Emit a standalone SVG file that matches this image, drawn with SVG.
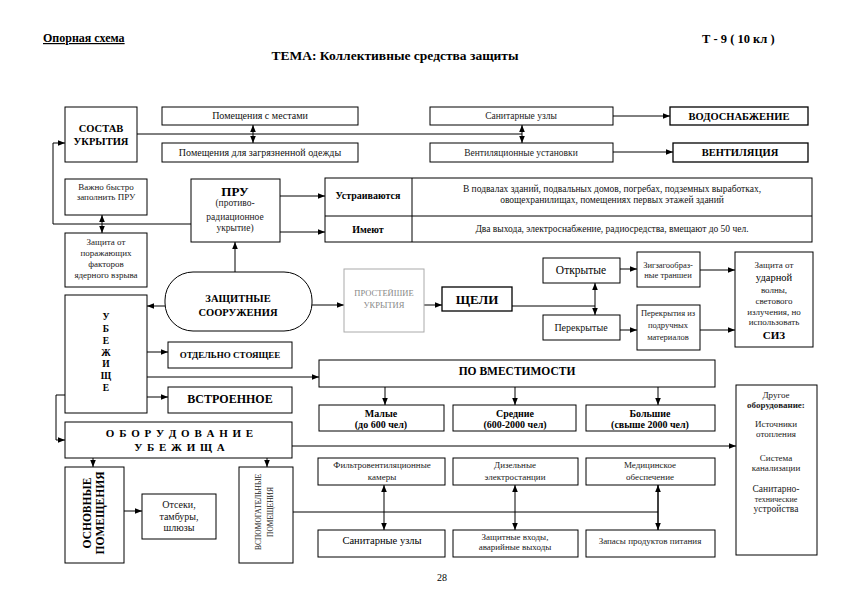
<svg xmlns="http://www.w3.org/2000/svg" width="841" height="595" viewBox="0 0 841 595" font-family="'Liberation Serif', 'DejaVu Serif', serif">
<style>
.b{fill:#fff;stroke:#000;stroke-width:1}
.lt{fill:#fff;stroke:#aaa;stroke-width:1}
.c{fill:none;stroke:#000;stroke-width:1}
.a{marker-end:url(#ah)}
.d{marker-start:url(#ah);marker-end:url(#ah)}
text{font-family:'Liberation Serif','DejaVu Serif',serif;fill:#000;text-anchor:middle}
.s{font-size:9px;fill:#222}
.m{font-size:10px;fill:#111}
.bd{font-weight:bold}
.g{fill:#888;font-size:8.5px}
</style>
<defs>
<marker id="ah" viewBox="0 0 10 10" refX="10" refY="5" markerWidth="7" markerHeight="7" markerUnits="userSpaceOnUse" orient="auto-start-reverse"><path d="M0,1 L10,5 L0,9 z" fill="#000"/></marker>
</defs>
<rect width="841" height="595" fill="#fff"/>

<g id="header">
<text x="43" y="42" style="text-anchor:start;font-size:12px;font-weight:bold;text-decoration:underline">Опорная схема</text>
<text x="702" y="43" style="text-anchor:start;font-size:12.5px;font-weight:bold">Т - 9 ( 10 кл )</text>
<text x="395" y="60" style="font-size:13.5px;font-weight:bold">ТЕМА: Коллективные средства защиты</text>
</g>

<g id="connectors">
<path class="c" d="M137,134 H522"/>
<path class="c d" d="M253,125 V143"/>
<path class="c d" d="M522,125 V143"/>
<path class="c a" d="M613,116 H670"/>
<path class="c a" d="M613,152 H673"/>
<path class="c a" d="M192,224 H53 V143 H65"/>
<path class="c d" d="M102,215 V233"/>
<path class="c a" d="M280,196 H325"/>
<path class="c a" d="M280,232 H325"/>
<path class="c a" d="M235,272 V242"/>
<path class="c a" d="M165,306 H147"/>
<path class="c a" d="M312,305 H344"/>
<path class="c a" d="M424,305 H442"/>
<path class="c" d="M512,306 H595"/>
<path class="c d" d="M595,283 V315"/>
<path class="c a" d="M620,269 H637"/>
<path class="c a" d="M620,330 H637"/>
<path class="c a" d="M700,270 H735"/>
<path class="c a" d="M700,330 H735"/>
<path class="c a" d="M147,352 H168"/>
<path class="c a" d="M147,377 H319"/>
<path class="c a" d="M147,397 H168"/>
<path class="c a" d="M65,395 H56 V440 H65"/>
<path class="c a" d="M385,387 V405"/>
<path class="c a" d="M515,387 V405"/>
<path class="c a" d="M658,387 V405"/>
<path class="c a" d="M292,446 H736"/>
<path class="c a" d="M93,458 V467"/>
<path class="c a" d="M267,458 V467"/>
<path class="c a" d="M124,511 H142"/>
<path class="c" d="M293,512 H658"/>
<path class="c d" d="M384,485 V530"/>
<path class="c d" d="M515,485 V530"/>
<path class="c d" d="M658,485 V530" style="stroke-width:1.5"/>
</g>

<g id="sostav">
<rect class="b" x="65" y="107" width="72" height="55"/>
<text x="101" y="132" class="bd" style="font-size:10.5px">СОСТАВ</text>
<text x="101" y="145" class="bd" style="font-size:10.5px">УКРЫТИЯ</text>
</g>
<g id="pom-mesta">
<rect class="b" x="162" y="107" width="196" height="18"/>
<text x="260" y="119" class="m">Помещения с местами</text>
</g>
<g id="pom-odezhda">
<rect class="b" x="162" y="143" width="196" height="19"/>
<text x="260" y="156" class="m">Помещения для загрязненной одежды</text>
</g>
<g id="san-uzly-top">
<rect class="b" x="430" y="107" width="183" height="18"/>
<text x="521" y="119" class="s" style="font-size:9.5px">Санитарные узлы</text>
</g>
<g id="vent-ust">
<rect class="b" x="430" y="143" width="183" height="19"/>
<text x="521" y="156" class="s" style="font-size:9.5px">Вентиляционные установки</text>
</g>
<g id="vodosnab">
<rect class="b" x="670" y="107" width="138" height="18" style="stroke-width:1.3"/>
<text x="739" y="120" class="bd" style="font-size:10.5px">ВОДОСНАБЖЕНИЕ</text>
</g>
<g id="ventil">
<rect class="b" x="673" y="143" width="135" height="19" style="stroke-width:1.3"/>
<text x="740" y="156" class="bd" style="font-size:10.5px">ВЕНТИЛЯЦИЯ</text>
</g>

<g id="vazhno">
<rect class="b" x="65" y="179" width="82" height="36"/>
<text x="106" y="190" class="s">Важно быстро</text>
<text x="106" y="200" class="s">заполнить ПРУ</text>
</g>
<g id="zashchita-yav">
<rect class="b" x="65" y="233" width="82" height="54"/>
<text x="106" y="245" class="s">Защита от</text>
<text x="106" y="256" class="s">поражающих</text>
<text x="106" y="267" class="s">факторов</text>
<text x="106" y="278" class="s">ядерного взрыва</text>
</g>
<g id="pru">
<rect class="b" x="191" y="179" width="89" height="63"/>
<text x="235" y="196" class="bd" style="font-size:13px">ПРУ</text>
<text x="235" y="206" class="s" style="font-size:9.5px">(противо-</text>
<text x="235" y="220" class="s" style="font-size:9.5px">радиационное</text>
<text x="235" y="231" class="s" style="font-size:9.5px">укрытие)</text>
</g>
<g id="table">
<rect class="b" x="325" y="178" width="487" height="64"/>
<path class="c" d="M325,216 H812 M412,178 V242"/>
<text x="368" y="199" class="bd" style="font-size:10px">Устраиваются</text>
<text x="368" y="233" class="bd" style="font-size:10px">Имеют</text>
<text x="612" y="192" class="m" style="font-size:9.5px">В подвалах зданий, подвальных домов, погребах, подземных выработках,</text>
<text x="612" y="203" class="m" style="font-size:9.5px">овощехранилищах, помещениях первых этажей зданий</text>
<text x="612" y="232" class="m" style="font-size:9.5px">Два выхода, электроснабжение, радиосредства, вмещают до 50 чел.</text>
</g>

<g id="zashch-sooruzh">
<rect class="b" x="165" y="272" width="147" height="59" rx="28" ry="28"/>
<text x="238" y="302" class="bd" style="font-size:10.5px">ЗАЩИТНЫЕ</text>
<text x="238" y="316" class="bd" style="font-size:10.5px">СООРУЖЕНИЯ</text>
</g>
<g id="prosteyshie">
<rect class="lt" x="344" y="269" width="80" height="63"/>
<text x="384" y="296" class="g">ПРОСТЕЙШИЕ</text>
<text x="384" y="308" class="g">УКРЫТИЯ</text>
</g>
<g id="shcheli">
<rect class="b" x="442" y="287" width="70" height="24" style="stroke-width:1.3"/>
<text x="477" y="304" class="bd" style="font-size:13px">ЩЕЛИ</text>
</g>
<g id="otkrytye">
<rect class="b" x="543" y="258" width="77" height="25"/>
<text x="581" y="274" style="font-size:11.5px">Открытые</text>
</g>
<g id="perekrytye">
<rect class="b" x="543" y="315" width="77" height="25"/>
<text x="581" y="331" class="m">Перекрытые</text>
</g>
<g id="transhei">
<rect class="b" x="637" y="252" width="63" height="35"/>
<text x="668" y="268" class="s" style="font-size:8.5px">Зигзагообраз-</text>
<text x="668" y="278" class="s" style="font-size:8.5px">ные траншеи</text>
</g>
<g id="perekrytiya">
<rect class="b" x="637" y="305" width="63" height="45"/>
<text x="668" y="316" class="s" style="font-size:8.5px">Перекрытия из</text>
<text x="668" y="328" class="s" style="font-size:8.5px">подручных</text>
<text x="668" y="340" class="s" style="font-size:8.5px">материалов</text>
</g>
<g id="zashchita-volna">
<rect class="b" x="735" y="252" width="78" height="95"/>
<text x="774" y="268" class="s">Защита от</text>
<text x="774" y="281" style="font-size:10.5px">ударной</text>
<text x="774" y="293" class="s">волны,</text>
<text x="774" y="304" class="s">светового</text>
<text x="774" y="315" class="s">излучения, но</text>
<text x="774" y="325" class="s">использовать</text>
<text x="774" y="339" class="bd" style="font-size:11px">СИЗ</text>
</g>

<g id="ubezhishche">
<rect class="b" x="65" y="295" width="82" height="118"/>
<text x="106" y="320" class="bd" style="font-size:9.5px">У</text>
<text x="106" y="332" class="bd" style="font-size:9.5px">Б</text>
<text x="106" y="344" class="bd" style="font-size:9.5px">Е</text>
<text x="106" y="356" class="bd" style="font-size:9.5px">Ж</text>
<text x="106" y="367" class="bd" style="font-size:9.5px">И</text>
<text x="106" y="379" class="bd" style="font-size:9.5px">Щ</text>
<text x="106" y="391" class="bd" style="font-size:9.5px">Е</text>
</g>
<g id="otdelno">
<rect class="b" x="168" y="342" width="124" height="26"/>
<text x="230" y="358" class="bd" style="font-size:9px">ОТДЕЛЬНО СТОЯЩЕЕ</text>
</g>
<g id="vstroennoe">
<rect class="b" x="168" y="387" width="124" height="26"/>
<text x="230" y="403" class="bd" style="font-size:12px">ВСТРОЕННОЕ</text>
</g>
<g id="po-vmestimosti">
<rect class="b" x="319" y="360" width="396" height="27"/>
<text x="517" y="375" class="bd" style="font-size:11.5px">ПО ВМЕСТИМОСТИ</text>
</g>
<g id="malye">
<rect class="b" x="319" y="405" width="125" height="26"/>
<text x="381" y="417" class="bd" style="font-size:10px">Малые</text>
<text x="381" y="428" class="bd" style="font-size:10px">(до 600 чел)</text>
</g>
<g id="srednie">
<rect class="b" x="453" y="405" width="123" height="26"/>
<text x="515" y="417" class="bd" style="font-size:10px">Средние</text>
<text x="515" y="428" class="bd" style="font-size:10px">(600-2000 чел)</text>
</g>
<g id="bolshie">
<rect class="b" x="586" y="405" width="129" height="26"/>
<text x="650" y="417" class="bd" style="font-size:10px">Большие</text>
<text x="650" y="428" class="bd" style="font-size:10px">(свыше 2000 чел)</text>
</g>
<g id="drugoe">
<rect class="b" x="736" y="385" width="81" height="170"/>
<text x="776" y="398" class="s">Другое</text>
<text x="776" y="408" class="s bd">оборудование:</text>
<text x="776" y="427" class="s">Источники</text>
<text x="776" y="437" class="s">отопления</text>
<text x="776" y="461" class="s">Система</text>
<text x="776" y="471" class="s">канализации</text>
<text x="776" y="492" class="s" style="font-size:9.5px">Санитарно-</text>
<text x="776" y="502" class="s" style="font-size:8px">технические</text>
<text x="776" y="512" class="s" style="font-size:9.5px">устройства</text>
</g>

<g id="oborudovanie">
<rect class="b" x="65" y="422" width="227" height="36"/>
<text x="180" y="437" class="bd" style="font-size:11px;letter-spacing:1px">О Б О Р У Д О В А Н И Е</text>
<text x="180" y="451" class="bd" style="font-size:11px;letter-spacing:1px">У Б Е Ж И Щ А</text>
</g>
<g id="osnovnye">
<rect class="b" x="65" y="467" width="59" height="96"/>
<text transform="translate(91,513) rotate(-90)" class="bd" style="font-size:11.5px">ОСНОВНЫЕ</text>
<text transform="translate(104,513) rotate(-90)" class="bd" style="font-size:11.5px">ПОМЕЩЕНИЯ</text>
</g>
<g id="otseki">
<rect class="b" x="142" y="494" width="74" height="45"/>
<text x="179" y="508" class="m">Отсеки,</text>
<text x="179" y="520" class="m">тамбуры,</text>
<text x="179" y="531" class="m">шлюзы</text>
</g>
<g id="vspomog">
<rect class="b" x="239" y="467" width="54" height="96"/>
<text transform="translate(261,512) rotate(-90)" class="s" style="font-size:7.5px">ВСПОМОГАТЕЛЬНЫЕ</text>
<text transform="translate(273,512) rotate(-90)" class="s" style="font-size:7.5px">ПОМЕЩЕНИЯ</text>
</g>
<g id="filtr">
<rect class="b" x="318" y="458" width="127" height="27"/>
<text x="382" y="468" class="s">Фильтровентиляционные</text>
<text x="382" y="480" class="s">камеры</text>
</g>
<g id="dizel">
<rect class="b" x="453" y="458" width="125" height="27"/>
<text x="515" y="468" class="s">Дизельные</text>
<text x="515" y="480" class="s">электростанции</text>
</g>
<g id="medic">
<rect class="b" x="586" y="458" width="129" height="27"/>
<text x="650" y="468" class="s">Медицинское</text>
<text x="650" y="480" class="s">обеспечение</text>
</g>
<g id="san-uzly-bottom">
<rect class="b" x="318" y="530" width="127" height="27"/>
<text x="382" y="544" style="font-size:10.5px">Санитарные узлы</text>
</g>
<g id="vhody">
<rect class="b" x="453" y="530" width="125" height="27"/>
<text x="515" y="540" class="s">Защитные входы,</text>
<text x="515" y="550" class="s">аварийные выходы</text>
</g>
<g id="zapasy">
<rect class="b" x="586" y="530" width="129" height="27"/>
<text x="650" y="544" class="s">Запасы продуктов питания</text>
</g>
<text x="442" y="581" style="font-size:10px">28</text>
</svg>
